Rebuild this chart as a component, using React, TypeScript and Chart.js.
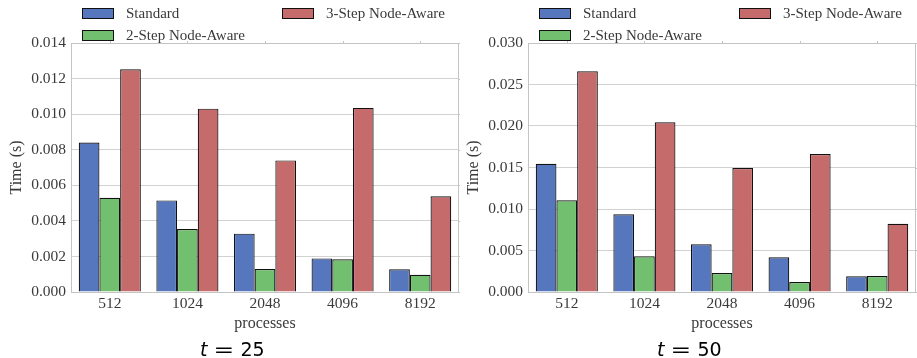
import React, { useEffect, useRef } from 'react';
import { Chart, registerables } from 'chart.js';

Chart.register(...registerables);

const categories = ['512', '1024', '2048', '4096', '8192'];
const seriesNames = ['Standard', '2-Step Node-Aware', '3-Step Node-Aware'];
const seriesColors = ['#5677BE', '#72BF6F', '#C66B6B'];

const t25Standard = [0.0084, 0.00515, 0.00328, 0.00189, 0.00128];
const t25TwoStep = [0.0053, 0.00354, 0.00129, 0.00184, 0.00097];
const t25ThreeStep = [0.01252, 0.01031, 0.0074, 0.01035, 0.00538];

const t50Standard = [0.01546, 0.00936, 0.00574, 0.00418, 0.00189];
const t50TwoStep = [0.01104, 0.0043, 0.00229, 0.0012, 0.00193];
const t50ThreeStep = [0.02659, 0.02044, 0.01494, 0.01663, 0.00823];

const t25Axis = { max: 0.014, step: 0.002 };
const t50Axis = { max: 0.03, step: 0.005 };

const SERIF = '"Liberation Serif", "Times New Roman", serif';
const SANS = '"DejaVu Sans", sans-serif';
const TEXT = '#3a3a3a';
const FRAME = '#c4c4c4';

// legend order like matplotlib ncol=2: col0 = Standard, 2-Step; col1 = 3-Step
const legendSlots = [
  { ds: 0, col: 0, row: 0 },
  { ds: 2, col: 1, row: 0 },
  { ds: 1, col: 0, row: 1 },
];

function makeExtras(tValue: string) {
  return {
    id: 'extras',
    beforeDatasetsDraw(chart: any) {
      const { ctx, chartArea } = chart;
      const { left, right, top, bottom } = chartArea;
      ctx.save();
      ctx.strokeStyle = FRAME;
      ctx.lineWidth = 1;
      ctx.beginPath();
      ctx.moveTo(left, top + 0.5);
      ctx.lineTo(right, top + 0.5);
      ctx.moveTo(right - 0.5, top);
      ctx.lineTo(right - 0.5, bottom);
      ctx.stroke();
      // small ticks on top and right spines
      const xs = chart.scales.x;
      const ys = chart.scales.y;
      ctx.beginPath();
      for (let i = 0; i < categories.length; i++) {
        const px = Math.round(xs.getPixelForValue(i)) + 0.5;
        ctx.moveTo(px, top - 2);
        ctx.lineTo(px, top + 1);
      }
      ys.ticks.forEach((t: any) => {
        const py = Math.round(ys.getPixelForValue(t.value)) + 0.5;
        ctx.moveTo(right - 1, py);
        ctx.lineTo(right + 2, py);
      });
      ctx.stroke();
      ctx.restore();
    },
    afterDraw(chart: any) {
      const { ctx } = chart;
      ctx.save();
      // legend
      const colX = [82, 282];
      const rowY = [8, 30];
      ctx.font = `15px ${SERIF}`;
      ctx.textBaseline = 'middle';
      ctx.textAlign = 'left';
      legendSlots.forEach((s) => {
        const ds = chart.data.datasets[s.ds];
        const bx = colX[s.col];
        const by = rowY[s.row];
        ctx.fillStyle = ds.backgroundColor;
        ctx.fillRect(bx, by, 32, 11);
        ctx.strokeStyle = '#111111';
        ctx.lineWidth = 1;
        ctx.strokeRect(bx + 0.5, by + 0.5, 31, 10);
        ctx.fillStyle = TEXT;
        ctx.fillText(ds.label, bx + 44, by + 6);
      });
      // caption
      ctx.textBaseline = 'alphabetic';
      ctx.fillStyle = '#000000';
      ctx.font = `oblique 19px ${SANS}`;
      ctx.fillText('t', 200, 355.5);
      ctx.font = `19px ${SANS}`;
      ctx.save();
      ctx.translate(213.5, 355.5);
      ctx.scale(1.3, 1);
      ctx.fillText('=', 0, 0);
      ctx.restore();
      ctx.fillText(tValue, 240.5, 355.5);
      ctx.restore();
    },
  };
}

function BarPanel(props: { data: number[][]; axis: { max: number; step: number }; tValue: string; left: number }) {
  const ref = useRef<HTMLCanvasElement | null>(null);
  useEffect(() => {
    if (!ref.current) return;
    const chart = new Chart(ref.current, {
      type: 'bar',
      data: {
        labels: categories,
        datasets: props.data.map((vals, i) => ({
          label: seriesNames[i],
          data: vals,
          backgroundColor: seriesColors[i],
          borderColor: '#111111',
          borderWidth: 1.2,
          categoryPercentage: 0.8,
          barPercentage: 1.0,
        })),
      },
      options: {
        responsive: false,
        animation: false,
        devicePixelRatio: 1,
        layout: { padding: { top: 43, right: 1, left: 0, bottom: 0 } },
        plugins: { legend: { display: false }, tooltip: { enabled: false }, title: { display: false } },
        scales: {
          x: {
            grid: { display: false, drawTicks: false },
            border: { display: true, color: FRAME, width: 1 },
            ticks: { color: TEXT, font: { family: SERIF, size: 15.5 }, padding: 3 },
            title: {
              display: true,
              text: 'processes',
              color: TEXT,
              font: { family: SERIF, size: 16 },
              padding: { top: 0, bottom: 25 },
            },
            afterFit: (scale: any) => {
              scale.height = 66;
            },
          },
          y: {
            min: 0,
            max: props.axis.max,
            grid: { color: '#d2d2d2', lineWidth: 1, drawTicks: false },
            border: { display: true, color: FRAME, width: 1 },
            ticks: {
              stepSize: props.axis.step,
              color: TEXT,
              font: { family: SERIF, size: 15.5 },
              padding: 5,
              callback: (v: any) => Number(v).toFixed(3),
            },
            title: {
              display: true,
              text: 'Time (s)',
              color: TEXT,
              font: { family: SERIF, size: 16 },
              padding: { top: 7, bottom: 0 },
            },
            afterFit: (scale: any) => {
              scale.width = 71;
            },
          },
        },
      },
      plugins: [makeExtras(props.tValue)],
    } as any);
    return () => chart.destroy();
  }, []);
  return (
    <div style={{ position: 'fixed', left: props.left, top: 0, width: 460, height: 358 }}>
      <canvas ref={ref} width={460} height={358} style={{ width: 460, height: 358, display: 'block' }} />
    </div>
  );
}

export default function App() {
  return (
    <div style={{ position: 'fixed', left: 0, top: 0, width: 917, height: 358, background: '#ffffff' }}>
      <BarPanel data={[t25Standard, t25TwoStep, t25ThreeStep]} axis={t25Axis} tValue="25" left={0} />
      <BarPanel data={[t50Standard, t50TwoStep, t50ThreeStep]} axis={t50Axis} tValue="50" left={457} />
    </div>
  );
}
